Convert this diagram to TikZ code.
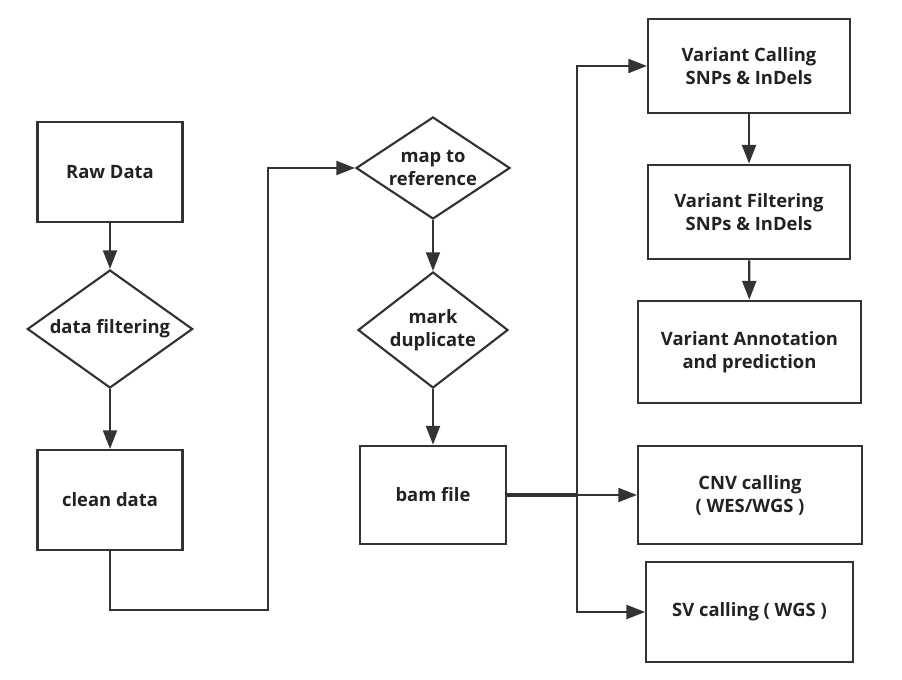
\documentclass[tikz,border=0pt]{standalone}
\usepackage{fontspec}
\setmainfont{Open Sans}
\usetikzlibrary{shapes.geometric,arrows.meta}
\definecolor{linegray}{HTML}{333333}
\definecolor{textgray}{HTML}{222222}
\tikzset{
	box/.style={draw=linegray, line width=1.6pt, rectangle, inner sep=2pt, align=center,
		text=textgray, font=\fontsize{13.8}{17.3}\selectfont\bfseries},
	test/.style={draw=linegray, line width=1.6pt, diamond, inner sep=-6pt, align=center,
		text=textgray, font=\fontsize{13.8}{17.3}\selectfont\bfseries},
	arr/.style={draw=linegray, line width=1.6pt, -{Triangle[length=14pt,width=10.5pt]}},
}
\begin{document}
\begin{tikzpicture}[x=0.75pt, y=-0.75pt]
	\useasboundingbox (0,0) rectangle (902,680);
	% left column
	\node[box, minimum width=108.75pt, minimum height=75pt] (raw) at (110,172) {Raw Data};
	\node[test, minimum width=124pt, minimum height=88.5pt] (filter) at (110,329) {data filtering};
	\node[box, minimum width=108.75pt, minimum height=75pt] (clean) at (110,500) {clean data};
	% middle column
	\node[test, minimum width=115.5pt, minimum height=76.5pt] (map) at (433,168) {map to\\reference};
	\node[test, minimum width=112.5pt, minimum height=87pt] (dup) at (433,330) {mark\\duplicate};
	\node[box, minimum width=110pt, minimum height=74pt] (bam) at (433,495) {bam file};
	% right column
	\node[box, minimum width=151.5pt, minimum height=70pt] (call) at (749,66) {Variant Calling\\SNPs \& InDels};
	\node[box, minimum width=151.5pt, minimum height=71pt] (vfilt) at (749,212) {Variant Filtering\\SNPs \& InDels};
	\node[box, minimum width=167pt, minimum height=77pt] (annot) at (749.5,352) {Variant Annotation\\and prediction};
	\node[box, minimum width=168pt, minimum height=74pt] (cnv) at (750,495) {CNV calling\\( WES/WGS )};
	\node[box, minimum width=155pt, minimum height=75pt] (sv) at (749.5,612) {SV calling ( WGS )};
	\coordinate (turn) at (268,610);
	\coordinate (branch) at (577,495);
	% connectors
	\draw[arr] (raw) -- (filter);
	\draw[arr] (filter) -- (clean);
	\draw[arr] (clean.south) |- (turn) |- (map.west);
	\draw[arr] (map) -- (dup);
	\draw[arr] (dup) -- (bam);
	\draw[draw=linegray, line width=2.6pt] (bam.east) -- (branch);
	\draw[arr] (branch) -- (cnv.west);
	\draw[arr] (branch) |- (call.west);
	\draw[arr] (branch) |- (sv.west);
	\draw[arr] (call) -- (vfilt);
	\draw[arr] (vfilt) -- (annot);
\end{tikzpicture}
\end{document}
